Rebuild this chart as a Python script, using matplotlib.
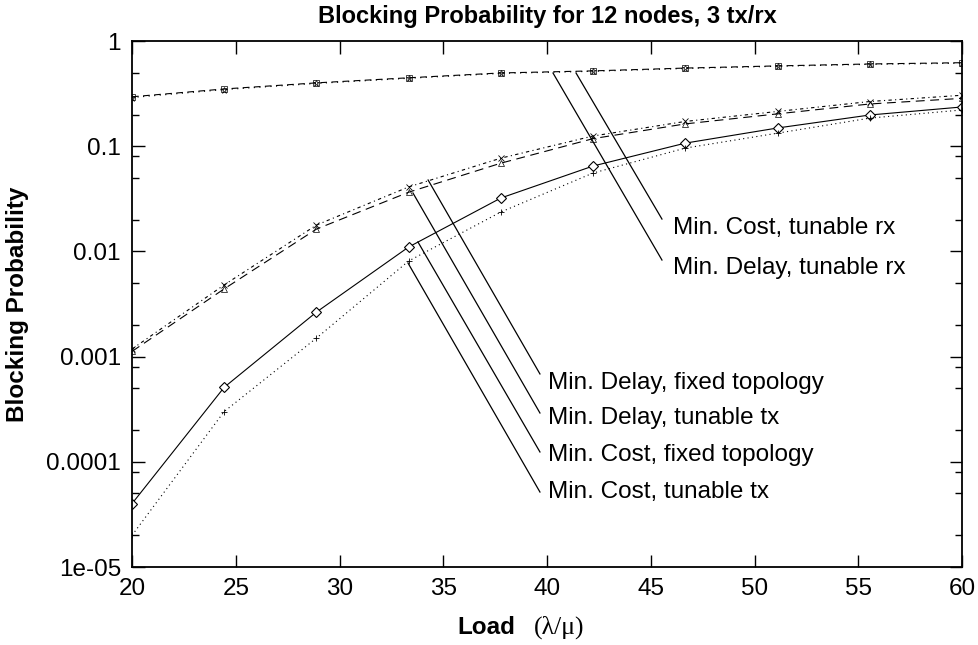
"""
    Blocking probability vs load, 12 nodes, 3 tx/rx
"""
# Includes
import matplotlib
matplotlib.use("Agg")
import matplotlib.pyplot as plt
import numpy as np

plt.rcParams['font.family'] = ['Liberation Sans', 'DejaVu Sans']

# Data
load = [20, 24.44, 28.89, 33.33, 37.78, 42.22, 46.67, 51.11, 55.56, 60]

cost_fixed = [4.0e-5, 5.1e-4, 2.65e-3, 0.011, 0.0322, 0.0648, 0.107, 0.149, 0.198, 0.236]
cost_tx = [2.0e-5, 3.0e-4, 1.5e-3, 8.1e-3, 0.0237, 0.0556, 0.096, 0.133, 0.185, 0.221]
cost_rx = [0.295, 0.35, 0.40, 0.447, 0.497, 0.52, 0.553, 0.58, 0.605, 0.622]
delay_fixed = [1.12e-3, 4.4e-3, 0.0163, 0.0365, 0.069, 0.118, 0.163, 0.203, 0.252, 0.285]
delay_tx = [1.18e-3, 4.8e-3, 0.0178, 0.041, 0.077, 0.125, 0.172, 0.214, 0.266, 0.305]
delay_rx = [0.29, 0.345, 0.395, 0.442, 0.492, 0.515, 0.548, 0.575, 0.60, 0.615]

ytick_vals = [1e-5, 1e-4, 1e-3, 1e-2, 1e-1, 1]
ytick_labels = ["1e-05", "0.0001", "0.001", "0.01", "0.1", "1"]
xtick_vals = [20, 25, 30, 35, 40, 45, 50, 55, 60]

# label text, label anchor (x, y), leader line start (x, y), leader line end (x, y)
labels = [
    ("Min. Cost, tunable rx", (46.07, 0.0167), (41.40, 0.496), (45.54, 0.0203)),
    ("Min. Delay, tunable rx", (46.07, 0.00695), (40.29, 0.496), (45.54, 0.00828)),
    ("Min. Delay, fixed topology", (40.05, 5.6e-4), (34.27, 0.0477), (39.66, 6.84e-4)),
    ("Min. Delay, tunable tx", (40.05, 2.6e-4), (33.54, 0.0359), (39.66, 2.91e-4)),
    ("Min. Cost, fixed topology", (40.05, 1.16e-4), (33.78, 0.0123), (39.66, 1.24e-4)),
    ("Min. Cost, tunable tx", (40.05, 5.16e-5), (33.30, 7.76e-3), (39.66, 5.16e-5)),
]

FS = 17.5


def PlotSeries(ax):
    lw = 0.8
    ms = 5
    ax.plot(load, cost_fixed, color='k', lw=lw, ls='-',
            marker='D', ms=ms, mfc='white', mec='k', mew=0.8)
    ax.plot(load, cost_tx, color='k', lw=lw, ls=(0, (1, 3)),
            marker='+', ms=ms, mew=0.6)
    ax.plot(load, cost_rx, color='k', lw=lw, ls=(0, (6, 4)),
            marker='s', ms=ms, mfc='none', mec='k', mew=0.5)
    ax.plot(load, delay_rx, color='k', lw=lw, ls=(0, (1, 4)),
            marker='*', ms=ms, mfc='none', mec='k', mew=0.5)
    ax.plot(load, delay_fixed, color='k', lw=lw, ls=(0, (8, 5)),
            marker='^', ms=ms, mfc='none', mec='k', mew=0.5)
    ax.plot(load, delay_tx, color='k', lw=lw, ls=(0, (3, 3, 1, 3)),
            marker='x', ms=ms, mew=0.6)


def PlotLabels(ax):
    for text, (tx, ty), (x0, y0), (x1, y1) in labels:
        ax.plot([x0, x1], [y0, y1], color='k', lw=0.9)
        ax.text(tx, ty, text, fontsize=FS, ha='left', va='center')


def SetupAxes(ax):
    ax.set_yscale('log')
    ax.set_xlim(20, 60)
    ax.set_ylim(1e-5, 1)

    ax.set_xticks(xtick_vals)
    ax.set_xticklabels([str(v) for v in xtick_vals], fontsize=FS)
    ax.set_yticks(ytick_vals)
    ax.set_yticklabels(ytick_labels, fontsize=FS)

    # minor ticks at 2 and 5 of each decade (plus a few odd ones from the original)
    minors = []
    for e in range(-5, 0):
        minors += [2 * 10.0 ** e, 5 * 10.0 ** e]
    minors += [0.08, 0.0008, 0.00008]
    ax.set_yticks(minors, minor=True)
    ax.set_yticklabels([], minor=True)
    ax.xaxis.set_minor_locator(matplotlib.ticker.NullLocator())

    ax.tick_params(which='major', direction='in', length=9, width=1.0,
                   top=True, right=True, pad=8)
    ax.tick_params(which='minor', direction='in', length=5, width=1.0,
                   left=True, right=True)
    for sp in ax.spines.values():
        sp.set_linewidth(1.3)


def main():
    fig = plt.figure(figsize=(9.79, 6.45), dpi=100)
    ax = fig.add_axes([132 / 979, 1 - 567 / 645, 830 / 979, 526 / 645])

    PlotSeries(ax)
    PlotLabels(ax)
    SetupAxes(ax)

    fig.text(547 / 979, 1 - 16 / 645, "Blocking Probability for 12 nodes, 3 tx/rx",
             fontsize=17, fontweight='bold', ha='center', va='center')
    fig.text(18 / 979, 1 - 304 / 645, "Blocking Probability", fontsize=FS,
             fontweight='bold', rotation=90, ha='center', va='center')

    # x label: bold "Load" followed by the serif (lambda/mu)
    fig.text(0.526, 1 - 627 / 645, "Load", fontsize=FS, fontweight='bold',
             ha='right', va='center')
    fig.text(0.545, 1 - 627 / 645, "(\u03bb/\u03bc)", fontsize=18.5,
             family=['Liberation Serif', 'DejaVu Serif'], ha='left', va='center')

    fig.savefig("out.png", dpi=100)


main()
